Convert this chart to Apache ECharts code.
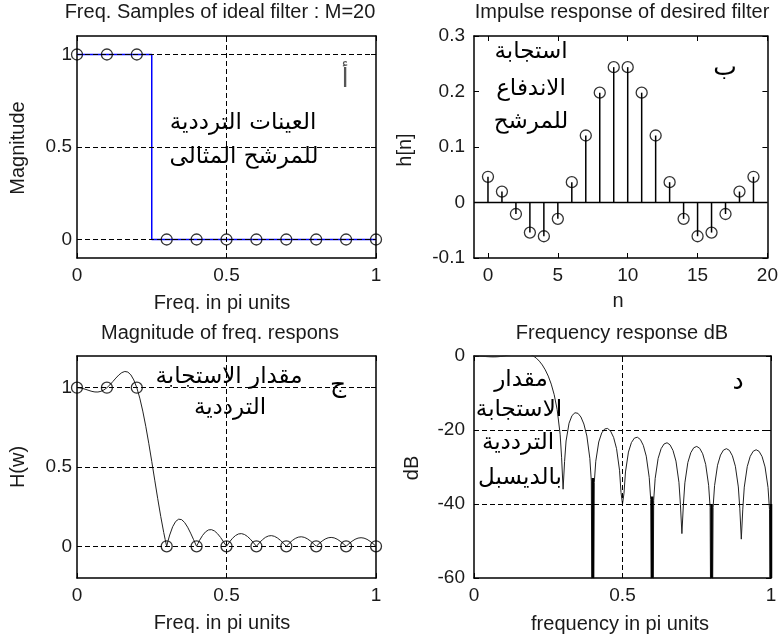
<!DOCTYPE html>
<html>
<head>
<meta charset="utf-8">
<script src="https://cdn.jsdelivr.net/npm/echarts@6/dist/echarts.min.js"></script>
<style>
  html, body { margin: 0; padding: 0; background: #fff; }
  #chart { width: 781px; height: 640px; }
</style>
</head>
<body>
<div id="chart"></div>
<script>
// Frequency-sampling low-pass FIR design, M = 20

// Frequency samples of the ideal filter (in pi units)
const sampleFreq = [0, 0.1, 0.2, 0.3, 0.4, 0.5, 0.6, 0.7, 0.8, 0.9, 1.0];
const sampleMag  = [1, 1, 1, 0, 0, 0, 0, 0, 0, 0, 0];

// Ideal magnitude response outline
const idealFreq = [0, 0.25, 0.25, 1];
const idealMag  = [1, 1, 0, 0];

// Impulse response h[n]
const nIndex = [0, 1, 2, 3, 4, 5, 6, 7, 8, 9, 10, 11, 12, 13, 14, 15, 16, 17, 18, 19];
const hn = [0.0463, 0.0197, -0.0207, -0.0542, -0.0608, -0.0295, 0.0366, 0.1207, 0.1979, 0.2439,
            0.2439, 0.1979, 0.1207, 0.0366, -0.0295, -0.0608, -0.0542, -0.0207, 0.0197, 0.0463];

// Frequency response (pi units), magnitude and dB
const respFreq = [
  0.00, 0.01, 0.02, 0.03, 0.04, 0.05, 0.06, 0.07, 0.08, 0.09,
  0.10, 0.11, 0.12, 0.13, 0.14, 0.15, 0.16, 0.17, 0.18, 0.19,
  0.20, 0.21, 0.22, 0.23, 0.24, 0.25, 0.26, 0.27, 0.28, 0.29,
  0.295, 0.30, 0.305,
  0.31, 0.32, 0.33, 0.34, 0.35, 0.36, 0.37, 0.38, 0.39,
  0.395, 0.40, 0.405,
  0.41, 0.42, 0.43, 0.44, 0.45, 0.46, 0.47, 0.48, 0.49,
  0.495, 0.50, 0.505,
  0.51, 0.52, 0.53, 0.54, 0.55, 0.56, 0.57, 0.58, 0.59,
  0.595, 0.60, 0.605,
  0.61, 0.62, 0.63, 0.64, 0.65, 0.66, 0.67, 0.68, 0.69,
  0.695, 0.70, 0.705,
  0.71, 0.72, 0.73, 0.74, 0.75, 0.76, 0.77, 0.78, 0.79,
  0.795, 0.80, 0.805,
  0.81, 0.82, 0.83, 0.84, 0.85, 0.86, 0.87, 0.88, 0.89,
  0.895, 0.90, 0.905,
  0.91, 0.92, 0.93, 0.94, 0.95, 0.96, 0.97, 0.98, 0.99,
  0.995, 1.00
];
const respMag = [
  1.0000, 0.9986, 0.9947, 0.9890, 0.9826, 0.9768, 0.9732, 0.9729, 0.9770, 0.9860,
  1.0000, 1.0181, 1.0391, 1.0607, 1.0804, 1.0953, 1.1024, 1.0987, 1.0815, 1.0490,
  1.0000, 0.9342, 0.8525, 0.7567, 0.6497, 0.5350, 0.4170, 0.3001, 0.1888, 0.0876,
  0.0420, 0, 0.0378,
  0.0710, 0.1234, 0.1567, 0.1710, 0.1680, 0.1500, 0.1204, 0.0829, 0.0414,
  0.0205, 0, 0.0196,
  0.0378, 0.0689, 0.0912, 0.1033, 0.1048, 0.0964, 0.0795, 0.0560, 0.0286,
  0.0143, 0, 0.0139,
  0.0271, 0.0503, 0.0676, 0.0777, 0.0799, 0.0745, 0.0621, 0.0443, 0.0228,
  0.0115, 0, 0.0113,
  0.0221, 0.0413, 0.0560, 0.0648, 0.0672, 0.0630, 0.0529, 0.0380, 0.0197,
  0.0099, 0, 0.0098,
  0.0193, 0.0363, 0.0494, 0.0576, 0.0600, 0.0565, 0.0477, 0.0344, 0.0179,
  0.0090, 0, 0.0090,
  0.0177, 0.0334, 0.0458, 0.0535, 0.0559, 0.0530, 0.0448, 0.0324, 0.0170,
  0.0086, 0, 0.0086,
  0.0169, 0.0320, 0.0440, 0.0516, 0.0541, 0.0514, 0.0437, 0.0317, 0.0167,
  0.0084, 0
];
const respDb = [
  0, -0.01, -0.05, -0.10, -0.15, -0.20, -0.24, -0.24, -0.20, -0.12,
  0, 0.16, 0.33, 0.51, 0.67, 0.79, 0.85, 0.82, 0.68, 0.42,
  0, -0.59, -1.39, -2.42, -3.75, -5.43, -7.60, -10.46, -14.48, -21.15,
  -27.5, -36, -28.5,
  -22.97, -18.17, -16.10, -15.34, -15.49, -16.48, -18.39, -21.63, -27.66,
  -33.8, -120, -34.2,
  -28.45, -23.24, -20.80, -19.72, -19.59, -20.32, -21.99, -25.04, -30.87,
  -36.9, -40, -37.1,
  -31.34, -25.97, -23.40, -22.19, -21.95, -22.56, -24.14, -27.07, -32.84,
  -38.8, -120, -39.0,
  -33.11, -27.68, -25.04, -23.77, -23.45, -24.01, -25.53, -28.40, -34.11,
  -40.1, -48, -40.2,
  -34.29, -28.80, -26.13, -24.79, -24.44, -24.96, -26.43, -29.27, -34.94,
  -40.9, -120, -40.9,
  -35.04, -29.52, -26.78, -25.43, -25.05, -25.51, -26.97, -29.79, -35.39,
  -41.3, -49.5, -41.4,
  -35.44, -29.90, -27.13, -25.75, -25.34, -25.78, -27.19, -29.98, -35.55,
  -41.5, -120
];
// Exact zeros of the response that drop off the dB scale
const deepNullFreq = [0.4, 0.6, 0.8, 1.0];
const deepNullTop  = [-33, -38, -40, -40];

// Tick values
const unitTicks = [0, 0.5, 1];
const nTicks = [0, 5, 10, 15, 20];
const hTicks = [-0.1, 0, 0.1, 0.2, 0.3];

const pairs = (xs, ys) => xs.map((x, i) => [x, ys[i]]);

const TXT = '#1a1a1a';
const LATIN = 'Liberation Sans, Arial, sans-serif';
const ARABIC = 'DejaVu Sans, sans-serif';

function axis(opts) {
  const a = {
    type: 'value',
    gridIndex: opts.grid,
    position: opts.position,
    min: opts.min,
    max: opts.max,
    axisLine: { show: true, onZero: false, lineStyle: { color: '#000', width: 1.5 } },
    axisTick: { show: true, inside: true, length: 5, lineStyle: { color: '#000', width: 1 } },
    axisLabel: {
      show: !opts.hidden, color: TXT, fontFamily: LATIN, fontSize: 19,
      margin: opts.margin == null ? 8 : opts.margin,
      showMinLabel: true, showMaxLabel: true
    },
    splitLine: { show: false }
  };
  if (opts.ticks) {
    a.axisLabel.customValues = opts.ticks;
    a.axisTick.customValues = opts.ticks;
  }
  if (opts.interval != null) a.interval = opts.interval;
  return a;
}

function gridLines(xi, yi, ys, xs) {
  return {
    type: 'line', xAxisIndex: xi, yAxisIndex: yi, data: [], z: 1, silent: true,
    markLine: {
      silent: true, symbol: 'none', animation: false,
      label: { show: false },
      lineStyle: { color: '#000', type: [5, 3], width: 1 },
      data: ys.map(v => ({ yAxis: v })).concat(xs.map(v => ({ xAxis: v })))
    }
  };
}

const circle = (xi, yi, data) => ({
  type: 'scatter', xAxisIndex: xi, yAxisIndex: yi, data: data, z: 5,
  symbol: 'circle', symbolSize: 11,
  itemStyle: { color: 'transparent', borderColor: '#000', borderWidth: 1.3 }
});

const grids = [
  { left: 77, top: 36, width: 299, height: 222 },
  { left: 474, top: 36, width: 298, height: 222 },
  { left: 77, top: 356, width: 299, height: 222 },
  { left: 474, top: 356, width: 297, height: 222 }
];

const xAxes = [
  axis({ grid: 0, position: 'bottom', min: 0, max: 1, interval: 0.5 }),
  axis({ grid: 1, position: 'bottom', min: -1, max: 20, ticks: nTicks }),
  axis({ grid: 2, position: 'bottom', min: 0, max: 1, interval: 0.5 }),
  axis({ grid: 3, position: 'bottom', min: 0, max: 1, interval: 0.5 }),
  axis({ grid: 0, position: 'top', min: 0, max: 1, interval: 0.5, hidden: true }),
  axis({ grid: 1, position: 'top', min: -1, max: 20, ticks: nTicks, hidden: true }),
  axis({ grid: 2, position: 'top', min: 0, max: 1, interval: 0.5, hidden: true }),
  axis({ grid: 3, position: 'top', min: 0, max: 1, interval: 0.5, hidden: true })
];
const yAxes = [
  axis({ grid: 0, position: 'left', min: -0.1, max: 1.1, ticks: unitTicks, margin: 5 }),
  axis({ grid: 1, position: 'left', min: -0.1, max: 0.3, ticks: hTicks, margin: 9 }),
  axis({ grid: 2, position: 'left', min: -0.2, max: 1.2, ticks: unitTicks, margin: 5 }),
  axis({ grid: 3, position: 'left', min: -60, max: 0, interval: 20, margin: 9 }),
  axis({ grid: 0, position: 'right', min: -0.1, max: 1.1, ticks: unitTicks, hidden: true }),
  axis({ grid: 1, position: 'right', min: -0.1, max: 0.3, ticks: hTicks, hidden: true }),
  axis({ grid: 2, position: 'right', min: -0.2, max: 1.2, ticks: unitTicks, hidden: true }),
  axis({ grid: 3, position: 'right', min: -60, max: 0, interval: 20, hidden: true })
];

const series = [
  // Panel 1: ideal filter samples
  gridLines(0, 0, [0, 0.5, 1], [0.5]),
  { type: 'line', xAxisIndex: 0, yAxisIndex: 0, data: pairs(idealFreq, idealMag), z: 3,
    symbol: 'none', lineStyle: { color: '#0000ff', width: 1.5 } },
  circle(0, 0, pairs(sampleFreq, sampleMag)),

  // Panel 2: impulse response stems
  { type: 'line', xAxisIndex: 1, yAxisIndex: 1, data: [], z: 2, silent: true,
    markLine: { silent: true, symbol: 'none', animation: false, label: { show: false },
      lineStyle: { color: '#000', type: 'solid', width: 1.3 }, data: [{ yAxis: 0 }] } },
  { type: 'bar', xAxisIndex: 1, yAxisIndex: 1, data: pairs(nIndex, hn), barWidth: 1.5, z: 3,
    itemStyle: { color: '#000' } },
  circle(1, 1, pairs(nIndex, hn)),

  // Panel 3: magnitude response
  gridLines(2, 2, [0, 0.5, 1], [0.5]),
  { type: 'line', xAxisIndex: 2, yAxisIndex: 2, data: pairs(respFreq, respMag), z: 3,
    symbol: 'none', lineStyle: { color: '#222', width: 1 } },
  circle(2, 2, pairs(sampleFreq, sampleMag)),

  // Panel 4: response in dB
  gridLines(3, 3, [-20, -40], [0.5]),
  { type: 'line', xAxisIndex: 3, yAxisIndex: 3, data: pairs(respFreq, respDb), z: 3,
    symbol: 'none', clip: true, lineStyle: { color: '#222', width: 1 } }
].concat(deepNullFreq.map((f, i) => ({
  type: 'line', xAxisIndex: 3, yAxisIndex: 3, z: 4, symbol: 'none', clip: true,
  data: [[f, deepNullTop[i]], [f, -60]],
  lineStyle: { color: '#000', width: 2.5 }
})));

function label(text, x, y, o) {
  o = o || {};
  return {
    type: 'text', x: x, y: y, rotation: o.rot || 0, z: 50,
    style: {
      text: text, fill: o.color || TXT,
      font: (o.size || 20) + 'px ' + (o.family || LATIN),
      textAlign: 'center', textVerticalAlign: 'middle'
    }
  };
}

const AR = { family: ARABIC, size: 23, color: '#000' };

const graphics = [
  label('Freq. Samples of ideal filter : M=20', 220, 12),
  label('Impulse response of desired filter', 622, 12),
  label('Magnitude of freq. respons', 220, 333),
  label('Frequency response dB', 622, 333),

  label('Freq. in pi units', 222, 303),
  label('n', 618, 301),
  label('Freq. in pi units', 222, 623),
  label('frequency in pi units', 620, 624),

  label('Magnitude', 18, 148, { rot: Math.PI / 2 }),
  label('h[n]', 405, 150, { rot: Math.PI / 2 }),
  label('H(w)', 18, 467, { rot: Math.PI / 2 }),
  label('dB', 412, 468, { rot: Math.PI / 2 }),

  // Arabic annotations
  label('أ', 345, 80, { family: ARABIC, size: 26, color: '#555' }),
  label('العينات الترددية', 243, 123, AR),
  label('للمرشح المثالى', 244, 157, AR),

  label('استجابة', 531, 52, AR),
  label('الاندفاع', 531, 89, AR),
  label('للمرشح', 531, 122, AR),
  label('ب', 725, 68, { family: ARABIC, size: 25, color: '#000' }),

  label('مقدار الاستجابة', 229, 377, AR),
  label('الترددية', 230, 408, AR),
  label('ج', 338, 385, { family: ARABIC, size: 25, color: '#000' }),

  label('مقدار', 521, 380, AR),
  label('الاستجابة', 519, 410, AR),
  label('الترددية', 518, 443, AR),
  label('بالديسبل', 520, 478, AR),
  label('د', 738, 382, { family: ARABIC, size: 25, color: '#000' })
];

const chart = echarts.init(document.getElementById('chart'), null, { renderer: 'canvas' });
chart.setOption({
  animation: false,
  backgroundColor: '#fff',
  grid: grids,
  xAxis: xAxes,
  yAxis: yAxes,
  series: series,
  graphic: graphics
});
</script>
</body>
</html>
